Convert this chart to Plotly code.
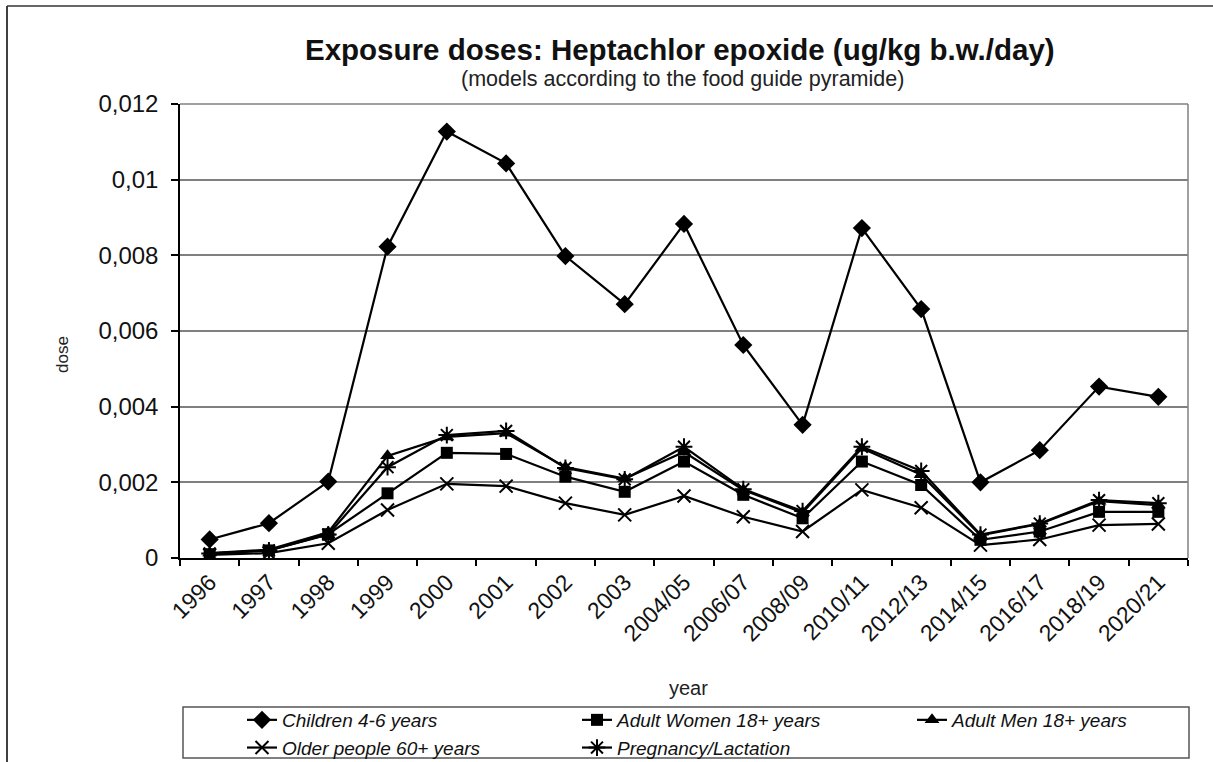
import plotly.graph_objects as go

# ---- data -------------------------------------------------------------
years = ["1996", "1997", "1998", "1999", "2000", "2001", "2002", "2003",
         "2004/05", "2006/07", "2008/09", "2010/11", "2012/13", "2014/15",
         "2016/17", "2018/19", "2020/21"]

children = [0.00049, 0.00092, 0.00202, 0.00823, 0.01127, 0.01043, 0.00798,
            0.00671, 0.00883, 0.00563, 0.00352, 0.00872, 0.00658, 0.00200,
            0.00285, 0.00453, 0.00426]
women = [0.00010, 0.00020, 0.00063, 0.00171, 0.00278, 0.00275, 0.00215,
         0.00175, 0.00255, 0.00167, 0.00105, 0.00255, 0.00193, 0.00048,
         0.00070, 0.00122, 0.00122]
men = [0.00013, 0.00022, 0.00068, 0.00270, 0.00320, 0.00330, 0.00240,
       0.00210, 0.00280, 0.00180, 0.00120, 0.00290, 0.00220, 0.00060,
       0.00090, 0.00150, 0.00140]
older = [0.00008, 0.00013, 0.00039, 0.00127, 0.00196, 0.00190, 0.00145,
         0.00114, 0.00164, 0.00109, 0.00070, 0.00180, 0.00133, 0.00034,
         0.00049, 0.00087, 0.00090]
pregnancy = [0.00012, 0.00020, 0.00062, 0.00240, 0.00325, 0.00336, 0.00238,
             0.00208, 0.00294, 0.00182, 0.00124, 0.00294, 0.00230, 0.00062,
             0.00091, 0.00153, 0.00145]

y_ticks = [0, 0.002, 0.004, 0.006, 0.008, 0.01, 0.012]
y_tick_text = ["0", "0,002", "0,004", "0,006", "0,008", "0,01", "0,012"]

# ---- page geometry (pixels) -------------------------------------------
W, H = 1213, 762
L, R, T, B = 180, 1188, 104, 558
PW, PH = R - L, B - T


def px_x(x):
    return (x - L) / PW


def px_y(y):
    return (B - y) / PH


FONT = "Liberation Sans, Arial, sans-serif"
INK = "#111111"

series = [
    ("Children 4-6 years", children, dict(symbol="diamond", size=14)),
    ("Adult Women 18+ years", women, dict(symbol="square", size=12)),
    ("Adult Men 18+ years", men, dict(symbol="triangle-up", size=13)),
    ("Older people 60+ years", older,
     dict(symbol="x-thin-open", size=13, line=dict(width=2, color="black"))),
    ("Pregnancy/Lactation", pregnancy,
     dict(symbol="asterisk-open", size=14, line=dict(width=2, color="black"))),
]

fig = go.Figure()
for name, vals, mk in series:
    fig.add_trace(go.Scatter(
        x=years, y=vals, name=name, mode="lines+markers",
        line=dict(color="black", width=2.2),
        marker=dict(color="black", **mk),
    ))

fig.update_layout(
    width=W, height=H,
    margin=dict(l=L, r=W - R, t=T, b=H - B, autoexpand=False),
    paper_bgcolor="white", plot_bgcolor="white",
    font=dict(family=FONT, color=INK),
    showlegend=True,
    legend=dict(
        orientation="h", x=px_x(242), y=px_y(701),
        xanchor="left", yanchor="top",
        entrywidth=290, entrywidthmode="pixels",
        bgcolor="rgba(0,0,0,0)", borderwidth=0,
        font=dict(family=FONT, size=19, style="italic", color=INK),
    ),
)

fig.update_xaxes(
    type="category", range=[-0.5, len(years) - 0.5],
    tickson="boundaries", ticks="outside", ticklen=6, tickwidth=1.5,
    tickcolor="black", showgrid=False, showline=True, linecolor="black",
    linewidth=1.5, tickangle=-45,
    tickfont=dict(family=FONT, size=23, color=INK),
)
fig.update_yaxes(
    range=[0, 0.012], tickvals=y_ticks, ticktext=y_tick_text,
    ticks="outside", ticklen=7, tickwidth=1.5, tickcolor="black",
    ticklabelstandoff=8,
    showgrid=True, gridcolor="#808080", gridwidth=1.5,
    showline=True, linecolor="black", linewidth=1.5, zeroline=False,
    tickfont=dict(family=FONT, size=24, color=INK),
)

shapes = [
    # upper and right frame of the plot area
    dict(type="line", xref="paper", yref="paper", x0=0, x1=1, y0=1, y1=1,
         line=dict(color="#808080", width=1.5)),
    dict(type="line", xref="paper", yref="paper", x0=1, x1=1, y0=0, y1=1,
         line=dict(color="#808080", width=1.5)),
    # legend box
    dict(type="rect", xref="paper", yref="paper",
         x0=px_x(183), x1=px_x(1189), y0=px_y(758), y1=px_y(707),
         line=dict(color="#555555", width=1.5)),
    # outer chart frame (left and top edges)
    dict(type="line", xref="paper", yref="paper",
         x0=px_x(7), x1=px_x(7), y0=px_y(6), y1=px_y(H + 5),
         line=dict(color="black", width=1.5)),
    dict(type="line", xref="paper", yref="paper",
         x0=px_x(7), x1=px_x(W + 5), y0=px_y(6), y1=px_y(6),
         line=dict(color="#333333", width=1.5)),
]
fig.update_layout(shapes=shapes)

annotations = [
    dict(text="<b>Exposure doses: Heptachlor epoxide (ug/kg b.w./day)</b>",
         x=px_x(680), y=px_y(50), xref="paper", yref="paper",
         xanchor="center", yanchor="middle", showarrow=False,
         font=dict(family=FONT, size=29.5, color=INK)),
    dict(text="(models according to the food guide pyramide)",
         x=px_x(682), y=px_y(79), xref="paper", yref="paper",
         xanchor="center", yanchor="middle", showarrow=False,
         font=dict(family=FONT, size=21.5, color="#222222")),
    dict(text="year", x=px_x(688), y=px_y(688), xref="paper", yref="paper",
         xanchor="center", yanchor="middle", showarrow=False,
         font=dict(family=FONT, size=20, color="#222222")),
    dict(text="dose", x=px_x(62), y=px_y(355), xref="paper", yref="paper",
         xanchor="center", yanchor="middle", showarrow=False, textangle=-90,
         font=dict(family=FONT, size=17, color="#222222")),
]
fig.update_layout(annotations=annotations)

fig.write_html("out.html")
